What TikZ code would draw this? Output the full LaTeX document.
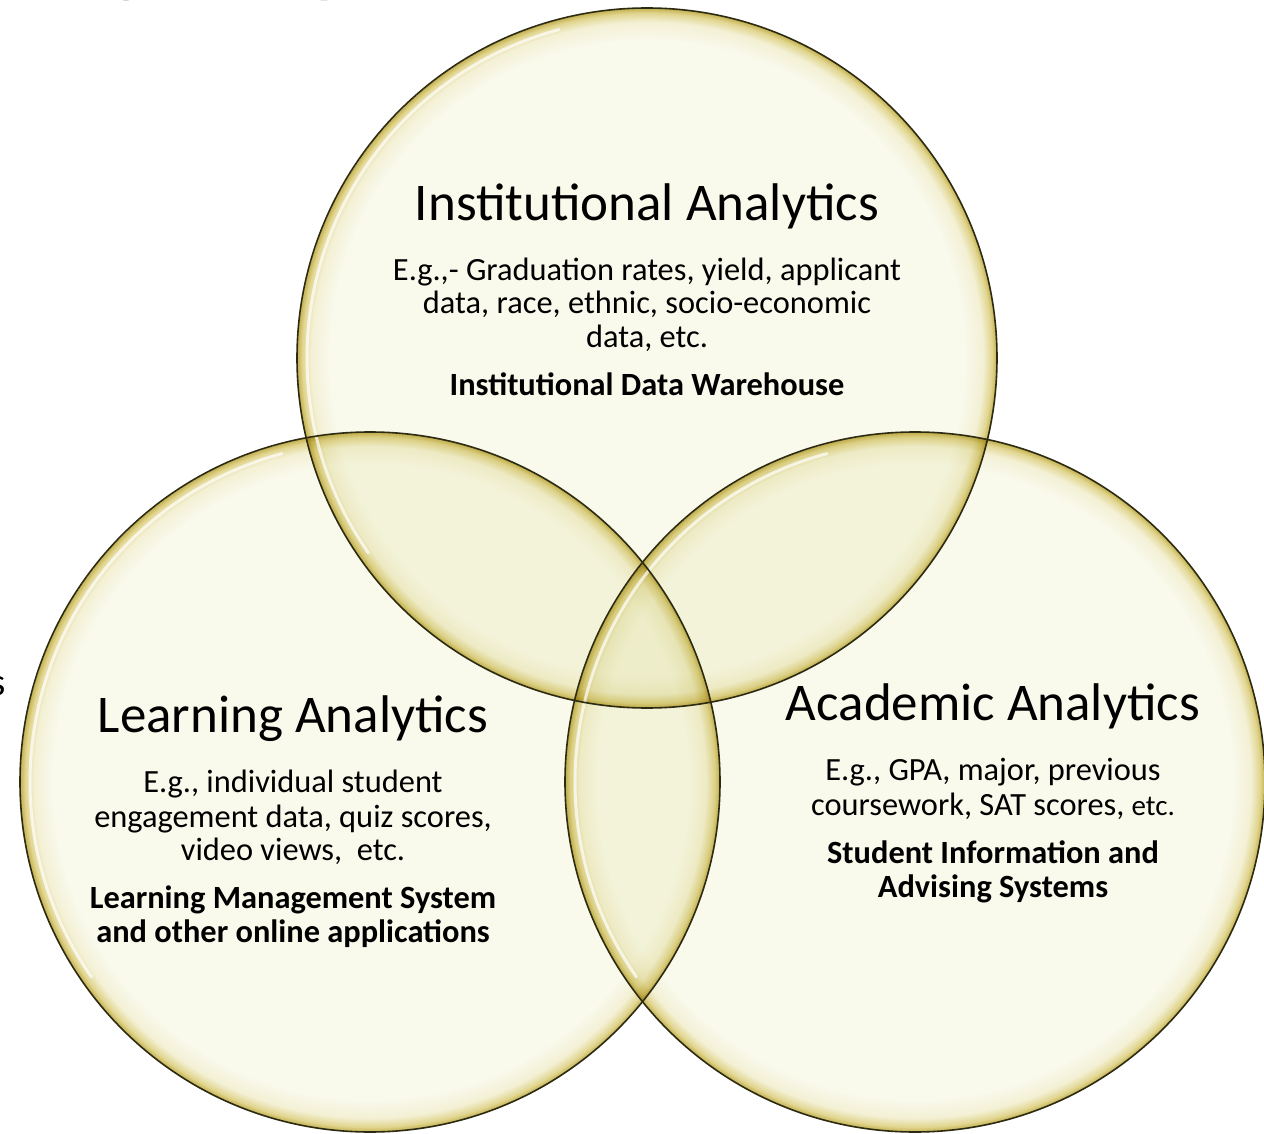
\documentclass[tikz,border=0pt]{standalone}
\usepackage{fontspec}
\setmainfont{Carlito}
\usetikzlibrary{calc}
\definecolor{vcream}{RGB}{249,249,236}
\definecolor{vpale}{RGB}{243,240,212}
\definecolor{vgold}{RGB}{225,213,143}
\definecolor{vdeep}{RGB}{194,176,78}
\definecolor{vline}{RGB}{45,42,18}
\pgfdeclareradialshading{vennshade}{\pgfpoint{0pt}{0pt}}{color(0pt)=(vcream); color(318pt)=(vcream); color(336pt)=(vpale); color(345pt)=(vgold); color(350pt)=(vdeep)}
\tikzset{
  ttl/.style={anchor=base, inner sep=0pt, font=\fontsize{53}{58}\selectfont},
  bod/.style={anchor=base, inner sep=0pt, font=\fontsize{32.4}{36}\selectfont},
  bld/.style={anchor=base, inner sep=0pt, font=\fontsize{32.4}{36}\selectfont\bfseries},
  frag/.style={inner sep=0pt},
  vrim/.style={draw=vline, line width=1.6pt},
  vshine/.style={draw=white, line width=3pt, opacity=0.7, line cap=round}
}
\begin{document}
\begin{tikzpicture}[x=1pt,y=-1pt]
\useasboundingbox (0,0) rectangle (1264,1134);
\clip (0,0) rectangle (1264,1134);
\fill[white] (0,0) rectangle (1264,1134);
\coordinate (ct) at (647,358);
\coordinate (cl) at (370,782);
\coordinate (cr) at (915,782);
% title fragments cut off at the top and left
\node[frag, anchor=base, font=\fontsize{100}{110}\selectfont] (fg) at (127,-16) {g};
\node[frag, anchor=base, font=\fontsize{100}{110}\selectfont] (fy) at (333,-15) {y};
\node[frag, anchor=base east, font=\fontsize{39}{44}\selectfont] (fs) at (6,695) {s};
% circles
\begin{scope}[blend mode=multiply]
  \foreach \c in {ct,cl,cr}{
    \begin{scope}
      \clip (\c) circle (350pt);
      \node[inner sep=0pt, outer sep=0pt] (s\c) at (\c) {\pgfuseshading{vennshade}};
    \end{scope}
  }
\end{scope}
\foreach \c in {ct,cl,cr}{
  \draw[vshine] ($(\c)+(105:340pt)$) arc[start angle=105, end angle=215, radius=340pt];
}
\foreach \c in {ct,cl,cr}{
  \draw[vrim] (\c) circle (350pt);
}
% top circle texts
\node[ttl] (t1) at (647,221) {Institutional Analytics};
\node[bod] (t2) at (647,280) {E.g.,- Graduation rates, yield, applicant};
\node[bod] (t3) at (647,313) {data, race, ethnic, socio-economic};
\node[bod] (t4) at (647,347) {data, etc.};
\node[bld] (t5) at (647,395) {Institutional Data Warehouse};
% left circle texts
\node[ttl] (l1) at (293,732) {Learning Analytics};
\node[bod] (l2) at (293,792) {E.g., individual student};
\node[bod] (l3) at (293,827) {engagement data, quiz scores,};
\node[bod] (l4) at (293,860) {video views,\ \ etc.};
\node[bld] (l5) at (293,908) {Learning Management System};
\node[bld] (l6) at (293,942) {and other online applications};
% right circle texts
\node[ttl] (r1) at (993,720) {Academic Analytics};
\node[bod] (r2) at (993,780) {E.g., GPA, major, previous};
\node[bod] (r3) at (993,815) {coursework, SAT scores, {\fontsize{29}{34}\selectfont etc.}};
\node[bld] (r4) at (993,863) {Student Information and};
\node[bld] (r5) at (993,897) {Advising Systems};
\end{tikzpicture}
\end{document}
